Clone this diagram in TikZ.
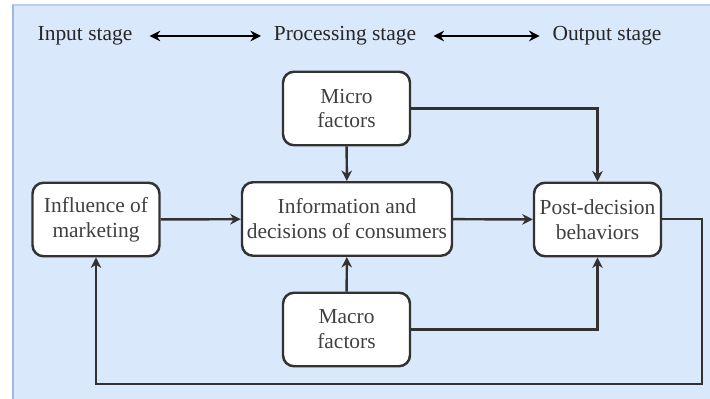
\documentclass[tikz,border=0pt]{standalone}
\usepackage{fontspec}
\setmainfont{LiberationSerif}[Extension=.ttf,UprightFont=*-Regular,
  BoldFont=*-Bold,ItalicFont=*-Italic]
\usetikzlibrary{arrows.meta}
\definecolor{panel_blue}{RGB}{218, 232, 252}
\definecolor{panel_edge}{RGB}{160, 184, 224}
\definecolor{box_line}{RGB}{50, 50, 50}
\tikzstyle{stage}=[text=black!85,inner xsep=0pt,inner ysep=2pt,
  font=\rmfamily\fontsize{12.2}{14.2}\selectfont]
\tikzstyle{box}=[rectangle,rounded corners=0.22cm,fill=white,draw=box_line,
  line width=1.4pt,inner sep=1pt,align=center,text=black!75,
  minimum width=2.54cm,minimum height=1.47cm,
  font=\rmfamily\fontsize{12.2}{14.2}\selectfont]
\tikzstyle{wide}=[box,minimum width=4.2cm]
\tikzstyle{flow}=[draw=box_line,line width=1.4pt,
  -{Stealth[length=6pt,width=6pt]}]
\tikzstyle{none}=[inner sep=0pt]

\begin{document}
\begin{tikzpicture}
    % panel
    \useasboundingbox (0, 0) rectangle (14.2, -7.98);
    \fill [panel_blue] (0.24, -0.1) rectangle (14.2, -7.98);
    \draw [panel_edge!70, line width=0.6pt] (0.25, -7.98) |- (14.2, -0.1);
    \draw [panel_edge, line width=1.2pt] (0.26, -0.1) to (0.26, -7.98);
    % stages
    \node [style=stage] (0) at (1.7, -0.72) {Input stage};
    \node [style=stage] (1) at (6.9, -0.72) {Processing stage};
    \node [style=stage] (2) at (12.14, -0.72) {Output stage};
    % blocks
    \node [style=box] (3) at (6.93, -2.17) {Micro\\factors};
    \node [style=wide] (4) at (6.94, -4.38) {Information and\\decisions of consumers};
    \node [style=box] (5) at (6.93, -6.59) {Macro\\factors};
    \node [style=box] (6) at (1.92, -4.39) {Influence of\\marketing};
    \node [style=box] (7) at (11.95, -4.39) {Post-decision\\behaviors};
    \node [style=none] (8) at (11.95, -2.17) {};
    \node [style=none] (9) at (11.95, -6.59) {};
    \node [style=none] (10) at (14.04, -4.38) {};
    \node [style=none] (11) at (14.04, -7.68) {};
    \node [style=none] (12) at (1.92, -7.68) {};
    \draw [{Stealth[length=6pt,width=6pt]}-{Stealth[length=6pt,width=6pt]},
      line width=1.1pt, shorten <=0.34cm, shorten >=0.25cm] (0) to (1);
    \draw [{Stealth[length=6pt,width=6pt]}-{Stealth[length=6pt,width=6pt]},
      line width=1.1pt, shorten <=0.34cm, shorten >=0.25cm] (1) to (2);
    \draw [style=flow] (3) to (4);
    \draw [style=flow] (5) to (4);
    \draw [style=flow] (6) to (4);
    \draw [style=flow] (4) to (7);
    \draw [style=flow] (3) to (8.center) to (7);
    \draw [style=flow] (5) to (9.center) to (7);
    \draw [style=flow] (7.east |- 10) to (10.center) to (11.center)
      to (12.center) to (6);
\end{tikzpicture}
\end{document}
